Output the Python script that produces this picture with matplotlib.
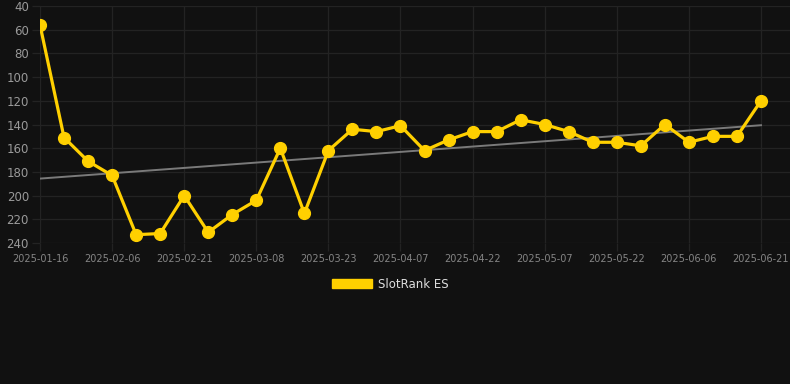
import numpy as np
import matplotlib
matplotlib.use("Agg")
import matplotlib.pyplot as plt
from matplotlib.patches import Patch

# Data (rank values, lower is better; y axis inverted)
ranks = [56, 151, 171, 183, 233, 232, 200, 231, 216, 204, 160, 215, 162, 144, 146,
         141, 162, 153, 146, 146, 136, 140, 146, 155, 155, 158, 140, 155, 150, 150, 120]
tick_labels = ["2025-01-16", "2025-02-06", "2025-02-21", "2025-03-08", "2025-03-23",
               "2025-04-07", "2025-04-22", "2025-05-07", "2025-05-22", "2025-06-06",
               "2025-06-21"]
series_name = "SlotRank ES"

W, H = 790, 384
BG = "#111111"
GRID = "#232323"
YELLOW = "#FFD000"

fig = plt.figure(figsize=(W / 100, H / 100), dpi=100, facecolor=BG)
ax = fig.add_axes([40 / W, 1 - 243 / H, (790 - 40) / W, (243 - 6) / H], facecolor=BG)

x = np.arange(len(ranks))
ax.plot(x, ranks, color=YELLOW, lw=2.3, marker="o", ms=8.5, mfc=YELLOW, mec=YELLOW,
        zorder=3, solid_joinstyle="round")

# Trend line (linear fit)
coef = np.polyfit(x, ranks, 1)
ax.plot([x[0], x[-1]], np.polyval(coef, [x[0], x[-1]]), color="#7a7a7a", lw=1.4, zorder=2)

ax.set_ylim(240, 40)
ax.set_yticks(np.arange(40, 241, 20))
ax.set_xlim(0, 30 + 29 / 24.03)
tick_pos = np.arange(0, len(ranks), 3)
ax.set_xticks(tick_pos)
ax.set_xticklabels(tick_labels)

ax.grid(True, color=GRID, lw=0.9)
ax.set_axisbelow(True)
for s in ax.spines.values():
    s.set_visible(False)
ax.tick_params(axis="y", colors=GRID, labelcolor="#9a9a9a", labelsize=8.5, length=6, width=0.9, pad=2)
ax.tick_params(axis="x", colors=GRID, labelcolor="#858585", labelsize=7, length=6, width=0.9, pad=2)

handle = Patch(facecolor=YELLOW, edgecolor=YELLOW)
leg = fig.legend([handle], [series_name], loc="center", bbox_to_anchor=(390 / W, 1 - 284 / H),
                 frameon=False, fontsize=8.5, labelcolor="#dddddd",
                 handlelength=3.4, handleheight=0.8, handletextpad=0.5)

fig.savefig("out.png", dpi=100, facecolor=BG)
